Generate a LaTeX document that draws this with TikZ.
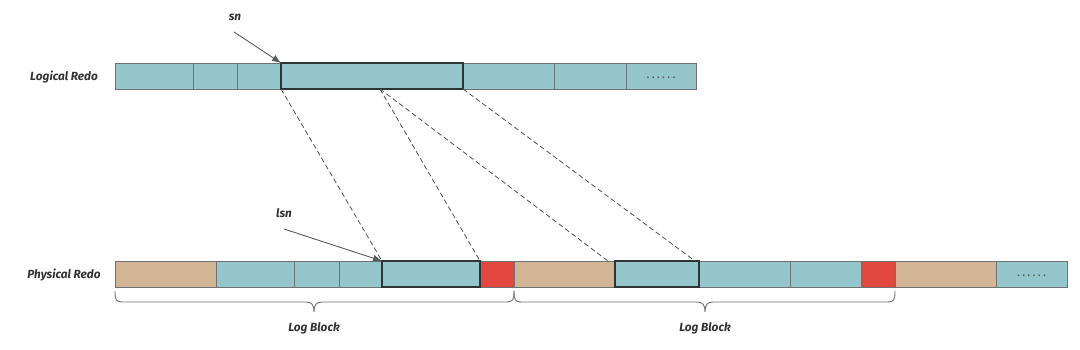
\documentclass[tikz,border=0pt]{standalone}
\usepackage{fontspec}
\setmainfont{Fira Sans}
\usetikzlibrary{arrows.meta}
\definecolor{cblue}{HTML}{94C6CB}
\definecolor{ctan}{HTML}{D2B594}
\definecolor{cred}{HTML}{E2473F}
\definecolor{cedge}{HTML}{6E7272}
\definecolor{cdark}{HTML}{2E3333}
\definecolor{ctext}{HTML}{333333}
\tikzset{
  cellbox/.style={draw=cedge, line width=0.8pt, inner sep=0pt, minimum height=26pt, anchor=west, outer sep=0pt},
  hilite/.style={draw=cdark, line width=1.6pt},
  lbl/.style={font=\fontsize{11.8}{13}\selectfont\bfseries\itshape, text=ctext, inner sep=0pt},
  dots/.style={font=\fontsize{10}{10}\selectfont\bfseries, text=cdark!80},
  mapline/.style={draw=cdark!85, line width=0.8pt, dash pattern=on 5pt off 3pt},
  ptr/.style={draw=cdark!80, line width=0.9pt, -{Latex[length=9pt,width=7pt]}},
  bracestyle/.style={draw=cedge, line width=0.9pt},
}
\newcommand{\mkcell}[5]{\node[cellbox, fill=#5, minimum width=#3pt-#2pt] (#1) at (#2,#4) {};}
\newcommand{\spdots}{.\hspace{2.8pt}.\hspace{2.8pt}.\hspace{2.8pt}.\hspace{2.8pt}.\hspace{2.8pt}.}
\begin{document}
\begin{tikzpicture}[x=1pt,y=-1pt]
\useasboundingbox (0,0) rectangle (1080,350);
% Logical row
\mkcell{l1}{115}{193}{76}{cblue}
\mkcell{l2}{193}{237}{76}{cblue}
\mkcell{l3}{237}{281}{76}{cblue}
\mkcell{l5}{463}{554}{76}{cblue}
\mkcell{l6}{554}{626}{76}{cblue}
\mkcell{l7}{626}{696}{76}{cblue}
\node[cellbox, hilite, fill=cblue, minimum width=182pt] (l4b) at (281,76) {};
\node[dots] (ld) at ([yshift=-2pt]l7.center) {\spdots};
% Physical row
\mkcell{p1}{115}{216}{274}{ctan}
\mkcell{p2}{216}{294}{274}{cblue}
\mkcell{p3}{294}{339}{274}{cblue}
\mkcell{p4}{339}{382}{274}{cblue}
\mkcell{p6}{480}{514}{274}{cred}
\mkcell{p7}{514}{615}{274}{ctan}
\mkcell{p9}{699}{790}{274}{cblue}
\mkcell{p10}{790}{861}{274}{cblue}
\mkcell{p11}{861}{895}{274}{cred}
\mkcell{p12}{895}{996}{274}{ctan}
\mkcell{p13}{996}{1067}{274}{cblue}
\node[cellbox, hilite, fill=cblue, minimum width=98pt] (p5) at (382,274) {};
\node[cellbox, hilite, fill=cblue, minimum width=84pt] (p8) at (615,274) {};
\node[dots] (pd) at ([yshift=-2pt]p13.center) {\spdots};
% labels
\node[lbl] (tl) at (64,77) {Logical Redo};
\node[lbl] (tp) at (64,275) {Physical Redo};
\node[lbl] (sn) at (235,17) {sn};
\node[lbl] (lsn) at (284,213) {lsn};
\node[lbl] (lb1) at (314,328) {Log Block};
\node[lbl] (lb2) at (705,328) {Log Block};
% pointer arrows
\coordinate (snA) at (234,32);
\coordinate (lsnA) at (284,229);
\draw[ptr] (snA) -- (l4b.north west);
\draw[ptr] (lsnA) -- (p5.north west);
% dashed mapping lines
\coordinate (lmid) at (380,89);
\coordinate (p7end) at (608,261);
\coordinate (p8end) at (695,261);
\draw[mapline] (l4b.south west) -- (p5.north west);
\draw[mapline] (lmid) -- (p5.north east);
\draw[mapline] (lmid) -- (p7end);
\draw[mapline] (l4b.south east) -- (p8end);
% braces
\draw[bracestyle] (115,291) .. controls (115,300) and (116,302) .. (123,302) -- (306,302) .. controls (312,302) and (314,305) .. (314,312) .. controls (314,305) and (316,302) .. (322,302) -- (506,302) .. controls (513,302) and (514,300) .. (514,291);
\draw[bracestyle] (514,291) .. controls (514,300) and (515,302) .. (522,302) -- (697,302) .. controls (703,302) and (705,305) .. (705,312) .. controls (705,305) and (707,302) .. (713,302) -- (887,302) .. controls (894,302) and (895,300) .. (895,291);
\end{tikzpicture}
\end{document}
